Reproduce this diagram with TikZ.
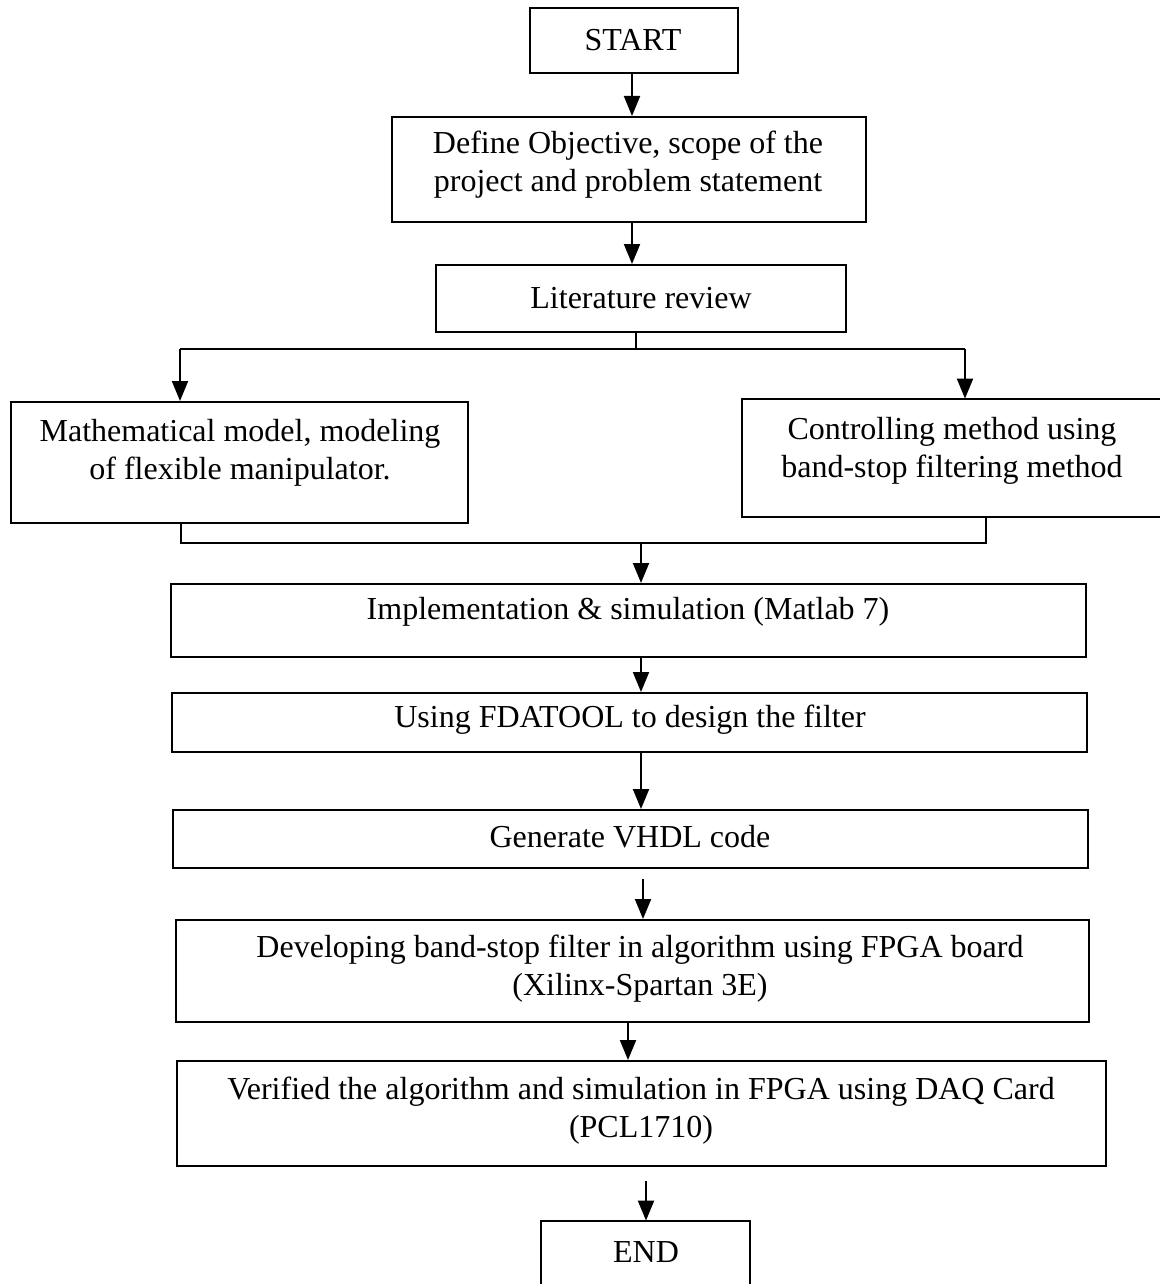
\documentclass[tikz,border=0pt]{standalone}
\usepackage{fontspec}
\setmainfont{Liberation Serif}
\usetikzlibrary{arrows.meta}
\begin{document}
\begin{tikzpicture}[x=0.5pt,y=-0.5pt,
  boxst/.style={draw=black,line width=1pt,rectangle,inner sep=0pt},
  openbox/.style={rectangle,inner sep=0pt,draw=none},
  txt/.style={inner sep=0pt,align=center,font=\fontsize{16}{19}\selectfont},
  ln/.style={line width=1pt,draw=black},
  arr/.style={line width=1pt,draw=black,-{Triangle[length=10pt,width=8pt]}}]
\useasboundingbox (0,0) rectangle (1160,1284);
\fill[white] (0,0) rectangle (1160,1284);

% boxes
\node[boxst,minimum width=104pt,minimum height=32.5pt] (start) at (634,40.5) {};
\node[txt,anchor=base] (startT) at (633,51) {START};

\node[boxst,minimum width=237pt,minimum height=52.5pt] (define) at (629,169.5) {};
\node[txt] (defineT) at (628,164.5) {Define Objective, scope of the\\project and problem statement};

\node[boxst,minimum width=205pt,minimum height=33.5pt] (lit) at (641,298.5) {};
\node[txt,anchor=base] (litT) at (641,308) {Literature review};

\node[boxst,minimum width=228.5pt,minimum height=60.5pt] (left) at (239.5,462.5) {};
\node[txt] (leftT) at (240,453) {Mathematical model, modeling\\of flexible manipulator.};

\node[openbox,minimum width=209pt,minimum height=59pt] (right) at (951,458) {};
\draw[ln] (right.north east) -- (right.north west) -- (right.south west) -- (right.south east);
\node[txt] (rightT) at (952,451) {Controlling method using\\band-stop filtering method};

\node[boxst,minimum width=457.5pt,minimum height=36.5pt] (impl) at (628.5,620.5) {};
\node[txt,anchor=base] (implT) at (628,619) {Implementation \& simulation (Matlab 7)};

\node[boxst,minimum width=457.5pt,minimum height=29.5pt] (fda) at (629.5,722.5) {};
\node[txt,anchor=base] (fdaT) at (630,727) {Using FDATOOL to design the filter};

\node[boxst,minimum width=457.5pt,minimum height=29pt] (vhdl) at (630.5,839) {};
\node[txt,anchor=base] (vhdlT) at (630,847) {Generate VHDL code};

\node[boxst,minimum width=456.5pt,minimum height=51pt] (dev) at (632.5,971) {};
\node[txt] (devT) at (640,969) {Developing band-stop filter in algorithm using FPGA board\\(Xilinx-Spartan 3E)};

\node[boxst,minimum width=464.5pt,minimum height=52.5pt] (ver) at (641.5,1113.5) {};
\node[txt] (verT) at (641,1110.5) {Verified the algorithm and simulation in FPGA using DAQ Card\\(PCL1710)};

\node[openbox,minimum width=104.5pt,minimum height=31.5pt] (endb) at (645.5,1252.5) {};
\draw[ln] (endb.south west) -- (endb.north west) -- (endb.north east) -- (endb.south east);
\node[txt,anchor=base] (endT) at (646,1262) {END};

% column coordinates
\coordinate (x632) at (632,0);
\coordinate (x636) at (636,0);
\coordinate (x641) at (641,0);
\coordinate (x643) at (643,0);
\coordinate (x628) at (628,0);
\coordinate (x646) at (646,0);
\coordinate (split) at (636,349);
\coordinate (jl) at (180,349);
\coordinate (jr) at (965,349);
\coordinate (ml) at (181,543);
\coordinate (mr) at (986,543);
\coordinate (mm) at (641,543);

% connectors
\draw[arr] (start.south -| x632) -- (define.north -| x632);
\draw[arr] (define.south -| x632) -- (lit.north -| x632);
\draw[ln] (lit.south -| x636) -- (split);
\draw[ln] (jl) -- (jr);
\draw[arr] (jl) -- (left.north -| jl);
\draw[arr] (jr) -- (right.north -| jr);
\draw[ln] (left.south -| ml) -- (ml) -- (mr) -- (right.south -| mr);
\draw[arr] (mm) -- (impl.north -| mm);
\draw[arr] (impl.south -| x641) -- (fda.north -| x641);
\draw[arr] (fda.south -| x641) -- (vhdl.north -| x641);
\draw[arr,shorten <=5pt] (vhdl.south -| x643) -- (dev.north -| x643);
\draw[arr] (dev.south -| x628) -- (ver.north -| x628);
\draw[arr,shorten <=7pt] (ver.south -| x646) -- (endb.north -| x646);
\end{tikzpicture}
\end{document}
